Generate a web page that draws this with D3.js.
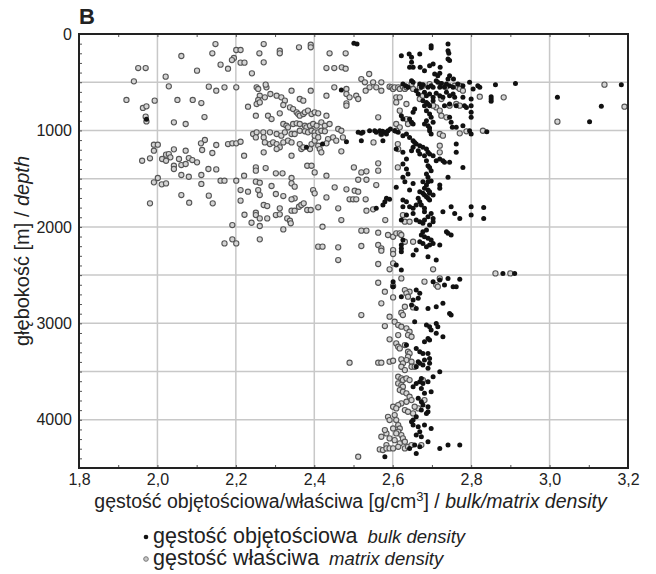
<!DOCTYPE html>
<html>
<head>
<meta charset="utf-8">
<script src="https://cdn.jsdelivr.net/npm/d3@7"></script>
<style>
  body { margin: 0; background: #fff; }
  svg { display: block; font-family: "Liberation Sans", Arial, sans-serif; }
</style>
</head>
<body>
<div id="chart"></div>
<script>
// tick values
var xTicks = [1.8, 2.0, 2.2, 2.4, 2.6, 2.8, 3.0, 3.2];
var yTicks = [0, 1000, 2000, 3000, 4000];
var yGrid = [500, 1000, 1500, 2000, 2500, 3000, 3500, 4000];

// gęstość właściwa / matrix density  [density g/cm3, depth m]
var matrixDensity = [
  [2.148,104],[2.061,228],[2.140,200],[2.201,166],[2.212,166],[2.195,249],[2.190,270],[2.161,318],[2.180,360],
  [2.212,297],[2.222,297],[2.101,380],[1.951,353],[1.970,353],[2.021,442],[1.940,491],[2.029,543],[2.131,546],
  [2.150,588],[2.171,553],[2.201,553],[2.241,408],[2.231,754],[1.921,684],[1.963,767],[1.972,750],[1.993,691],
  [2.051,684],[2.090,684],[2.112,716],[1.970,857],[1.972,906],[2.120,861],[2.042,916],[2.072,933],[1.991,1148],
  [2.001,1148],[2.121,1099],[2.111,1134],[2.150,1151],[2.180,1141],[2.191,1134],[2.201,1134],[2.212,1117],
  [1.991,1210],[1.961,1314],[1.981,1289],[2.012,1296],[2.022,1251],[2.029,1245],[2.033,1279],[2.022,1314],
  [2.042,1196],[2.055,1296],[2.042,1366],[2.042,1400],[2.061,1359],[2.072,1210],[2.072,1348],[2.080,1286],
  [2.089,1307],[2.101,1331],[2.114,1203],[2.140,1234],[2.130,1400],[2.150,1404],[2.112,1462],[2.061,1462],
  [2.080,1480],[2.001,1493],[1.991,1538],[2.161,1521],[2.171,1521],[2.201,1521],[2.221,1262],[2.221,1469],
  [2.011,1559],[2.022,1549],[2.112,1555],[2.061,1670],[2.081,1749],[2.131,1676],[2.141,1756],[1.981,1756],
  [2.212,1618],[2.231,1635],[2.212,1728],[2.222,1874],[2.191,1981],[2.171,2171],[2.191,2129],[2.201,2171],
  [2.271,104],[2.260,200],[2.271,294],[2.312,173],[2.312,200],[2.361,138],[2.391,111],[2.391,138],[2.439,200],
  [2.480,200],[2.431,353],[2.451,353],[2.470,346],[2.480,360],[2.520,467],[2.529,501],[2.540,415],[2.541,553],
  [2.550,501],[2.571,501],[2.482,570],[2.482,622],[2.490,657],[2.507,640],[2.512,674],[2.531,588],[2.482,719],
  [2.482,743],[2.451,553],[2.431,640],[2.253,553],[2.257,570],[2.278,553],[2.276,525],[2.261,640],[2.257,684],
  [2.274,657],[2.288,622],[2.304,640],[2.316,657],[2.325,691],[2.342,588],[2.363,674],[2.372,691],[2.391,588],
  [2.253,726],[2.261,709],[2.321,736],[2.338,761],[2.346,778],[2.355,812],[2.359,830],[2.363,847],[2.372,830],
  [2.376,812],[2.384,795],[2.393,830],[2.401,812],[2.410,823],[2.431,847],[2.251,847],[2.282,847],[2.291,882],
  [2.312,823],[2.321,933],[2.329,951],[2.333,968],[2.346,933],[2.355,926],[2.363,933],[2.376,951],[2.380,968],
  [2.389,951],[2.397,933],[2.406,951],[2.418,916],[2.427,951],[2.439,933],[2.363,1003],[2.376,1009],[2.384,1020],
  [2.393,1003],[2.401,1020],[2.410,1020],[2.418,1003],[2.427,1009],[2.461,985],[2.469,1003],[2.244,1037],
  [2.253,1020],[2.270,1020],[2.287,1020],[2.304,1037],[2.316,1054],[2.325,1020],[2.342,1037],[2.350,1037],
  [2.251,1072],[2.271,1072],[2.274,1124],[2.287,1141],[2.295,1124],[2.304,1141],[2.312,1175],[2.321,1124],
  [2.333,1106],[2.342,1124],[2.363,1141],[2.367,1193],[2.372,1175],[2.389,1193],[2.393,1141],[2.401,1106],
  [2.410,1158],[2.414,1193],[2.418,1227],[2.401,1054],[2.410,1072],[2.435,1089],[2.448,1072],[2.456,1106],
  [2.473,1072],[2.271,1227],[2.304,1193],[2.342,1262],[2.431,1134],[2.469,1217],[2.551,1124],[2.613,1141],
  [2.251,1383],[2.251,1417],[2.276,1390],[2.302,1445],[2.319,1445],[2.342,1493],[2.382,1366],[2.393,1366],
  [2.401,1435],[2.431,1469],[2.501,1383],[2.520,1435],[2.533,1424],[2.563,1341],[2.563,1417],[2.533,1511],
  [2.512,1511],[2.613,1383],
  [2.251,1531],[2.261,1542],[2.257,1618],[2.261,1670],[2.291,1576],[2.302,1659],[2.321,1680],[2.342,1549],
  [2.350,1583],[2.350,1704],[2.342,1714],[2.397,1618],[2.401,1652],[2.431,1694],[2.452,1590],[2.482,1611],
  [2.503,1625],[2.512,1635],[2.490,1714],[2.499,1714],[2.507,1714],[2.531,1714],[2.533,1832],[2.550,1818],
  [2.558,1566],[2.581,1929],[2.271,1773],[2.280,1784],[2.312,1808],[2.302,1877],[2.312,1870],[2.342,1832],
  [2.350,1832],[2.361,1791],[2.367,1773],[2.373,1756],[2.382,1825],[2.391,1825],[2.410,1797],[2.461,1808],
  [2.251,1853],[2.251,1877],[2.261,1912],[2.240,1957],[2.261,1991],[2.280,1912],[2.331,1912],[2.338,1936],
  [2.340,1963],[2.321,2026],[2.261,2129],[2.469,1929],[2.421,1998],[2.520,2039],[2.533,2039],[2.410,2205],
  [2.421,2205],[2.461,2212],[2.461,2344],[2.520,2198],[2.601,2378],[2.520,2914],
  [2.558,553],[2.571,588],[2.592,546],[2.597,553],[2.601,570],[2.605,553],[2.614,553],[2.618,570],[2.626,546],
  [2.631,570],[2.635,553],[2.652,570],[2.648,519],[2.669,553],[2.677,536],[2.694,519],[2.724,519],[2.737,546],
  [2.758,536],[2.766,553],[2.771,536],[2.771,570],[2.779,588],[2.609,657],[2.609,709],[2.618,657],[2.669,674],
  [2.677,640],[2.635,726],[2.711,761],[2.720,795],[2.724,847],[2.737,864],[2.745,743],[2.762,726],[2.771,743],
  [2.724,674],[2.703,743],[2.563,864],[2.571,1037],[2.618,795],[2.609,933],[2.618,968],[2.609,1003],[2.614,1193],
  [2.720,1158],[2.720,1227],[2.720,1037],[2.728,1054],[2.771,1030],[2.788,1009],[2.830,1003],[2.635,882],[2.639,933],
  [2.626,1877],[2.631,1946],[2.643,1946],[2.563,2060],[2.588,2084],[2.601,2102],[2.609,2067],[2.618,2067],
  [2.622,2084],[2.631,2154],[2.652,2154],[2.563,2188],[2.571,2223],[2.571,2247],[2.601,2240],[2.601,2281],
  [2.563,2385],[2.592,2440],[2.703,2440],[2.563,2579],[2.601,2613],[2.580,2672],[2.622,2534],[2.681,2568],
  [2.711,2603],[2.715,2620],[2.720,2534],[2.571,2793],[2.601,2731],[2.631,2655],[2.643,2672],[2.635,2689],
  [2.639,2724],[2.631,2828],[2.652,2835],[2.622,2890],[2.626,2914],[2.592,2931],
  [2.580,3028],[2.605,2983],[2.614,3018],[2.622,3035],[2.635,3052],[2.643,3087],[2.639,3122],[2.648,3139],
  [2.614,3122],[2.592,3166],[2.609,3208],[2.614,3243],[2.618,3260],[2.631,3225],[2.639,3294],[2.643,3312],
  [2.639,3346],[2.635,3381],[2.648,3398],[2.490,3408],[2.563,3408],[2.571,3408],[2.592,3398],[2.601,3388],
  [2.622,3374],[2.626,3415],[2.622,3450],[2.631,3485],[2.648,3450],[2.656,3450],[2.614,3554],[2.622,3571],
  [2.626,3588],[2.635,3571],[2.643,3588],[2.614,3623],[2.622,3640],[2.626,3657],[2.618,3692],[2.626,3709],
  [2.635,3726],[2.643,3761],[2.648,3796],[2.635,3813],[2.622,3830],[2.614,3848],[2.601,3865],[2.609,3882],
  [2.631,3899],[2.639,3917],[2.652,3934],[2.665,3882],[2.656,3865],[2.588,3969],[2.592,4003],[2.605,3951],
  [2.609,4003],[2.614,4055],[2.618,4090],[2.601,4090],[2.614,4124],[2.622,4159],[2.626,4193],[2.609,4141],
  [2.584,4141],[2.580,4107],[2.571,4176],[2.592,4193],[2.605,4211],[2.618,4245],[2.631,4228],[2.584,4262],
  [2.567,4307],[2.575,4314],[2.584,4297],[2.592,4297],[2.601,4297],[2.614,4280],[2.631,4297],[2.639,4280],
  [2.648,4262],[2.673,4262],[2.512,4383],[2.677,3588],[2.681,3796],
  [2.822,650],[2.883,657],[3.140,525],[3.191,754],[3.020,909],[2.862,2482],[2.900,2482]
];

// gęstość objętościowa / bulk density  [density g/cm3, depth m]
var bulkDensity = [
  [2.501,97],[2.509,104],[2.469,580],[2.380,1175],[2.421,1141],[2.482,1117],[2.512,1020],[2.520,1030],
  [2.524,1020],[2.541,1003],[2.520,1106],[2.609,1193],[1.972,885],[2.609,1590],
  [2.698,121],[2.698,145],[2.741,104],[2.741,173],[2.743,200],[2.622,225],[2.642,207],[2.648,242],[2.669,207],
  [2.741,259],[2.745,276],[2.652,346],[2.643,346],[2.648,294],[2.670,346],[2.694,328],[2.703,311],[2.721,346],
  [2.681,380],[2.707,415],[2.715,432],[2.720,408],[2.745,432],[2.741,467],[2.755,467],[2.711,484],[2.715,501],
  [2.724,512],[2.648,484],[2.652,501],[2.626,519],[2.633,536],[2.639,553],[2.669,519],[2.673,553],[2.677,525],
  [2.690,553],[2.698,536],[2.703,553],[2.720,553],[2.732,553],[2.737,519],[2.745,536],[2.754,553],[2.766,519],
  [2.779,536],[2.796,501],[2.817,536],[2.805,570],[2.822,553],[2.660,588],[2.665,622],[2.681,605],[2.686,640],
  [2.694,622],[2.703,657],[2.711,615],[2.720,640],[2.728,657],[2.737,605],[2.745,640],[2.754,622],[2.758,657],
  [2.779,657],[2.800,674],[2.677,691],[2.686,709],[2.690,726],[2.694,743],[2.703,691],[2.681,743],[2.656,778],
  [2.652,812],[2.732,743],[2.745,726],[2.762,743],[2.783,743],[2.788,761],[2.800,743],[2.800,812],[2.800,864],
  [2.622,847],[2.626,882],[2.643,882],[2.648,916],[2.652,933],[2.686,795],[2.694,830],[2.698,864],[2.686,899],
  [2.681,933],[2.690,951],[2.694,975],[2.694,1003],[2.698,1037],[2.703,916],[2.745,864],[2.749,916],[2.762,968],
  [2.779,951],[2.752,968],[2.554,1003],[2.558,1020],[2.567,1003],[2.574,1009],[2.580,1020],[2.588,1003],
  [2.594,985],[2.605,1003],[2.614,1020],[2.571,1037],[2.584,1037],[2.575,1106],[2.626,1054],[2.635,1037],
  [2.643,1072],[2.652,1106],[2.656,1124],[2.660,1141],[2.669,1158],[2.677,1175],[2.686,1193],[2.690,1227],
  [2.694,1245],[2.703,1262],[2.652,1175],[2.648,1210],[2.665,1210],[2.669,1245],[2.681,1262],[2.686,1314],
  [2.690,1366],[2.694,1383],[2.698,1417],[2.686,1452],[2.690,1486],[2.626,1227],[2.635,1296],[2.626,1348],
  [2.635,1400],[2.639,1452],[2.626,1486],[2.762,1141],[2.762,1227],[2.779,1383],[2.711,1314],[2.720,1296],
  [2.728,1314],[2.732,1331],[2.745,1331],[2.741,1486],[2.796,1003],[2.800,1037],
  [2.631,1531],[2.652,1549],[2.677,1531],[2.690,1531],[2.698,1524],[2.686,1566],[2.681,1600],[2.690,1618],
  [2.694,1635],[2.669,1635],[2.677,1652],[2.681,1670],[2.686,1687],[2.694,1652],[2.703,1670],[2.690,1704],
  [2.694,1721],[2.665,1704],[2.669,1739],[2.643,1618],[2.720,1566],[2.720,1600],[2.584,1704],[2.592,1714],
  [2.580,1739],[2.575,1773],[2.558,1808],[2.626,1721],[2.635,1739],[2.626,1791],[2.643,1791],[2.652,1808],
  [2.660,1773],[2.673,1773],[2.681,1808],[2.681,1842],[2.652,1860],[2.635,1877],[2.622,1929],[2.660,1929],
  [2.669,1946],[2.677,1963],[2.681,1929],[2.690,1894],[2.698,1860],[2.703,1912],[2.703,1946],[2.694,1981],
  [2.686,2033],[2.677,2050],[2.673,2084],[2.681,2102],[2.690,2119],[2.698,2136],[2.703,2171],[2.694,2188],
  [2.686,2205],[2.677,2171],[2.669,2154],[2.626,2136],[2.622,2188],[2.622,2223],[2.622,2257],[2.652,2292],
  [2.660,2240],[2.690,2309],[2.711,2344],[2.720,2188],[2.737,2050],[2.749,2084],[2.741,2067],[2.728,1842],
  [2.749,1791],[2.758,1860],[2.771,1912],[2.800,1791],[2.800,1877],[2.609,2396],[2.622,2447],[2.601,2568],
  [2.601,2620],[2.622,2724],[2.660,2655],[2.669,2689],[2.665,2741],[2.652,2758],[2.648,2810],[2.660,2845],
  [2.690,2845],[2.711,2828],[2.703,2568],[2.720,2551],[2.732,2603],[2.741,2534],[2.754,2620],[2.762,2620],
  [2.771,2544],[2.728,2793],[2.745,2897],[2.749,2914],
  [2.656,2983],[2.686,3018],[2.694,3035],[2.698,3070],[2.711,3001],[2.715,3035],[2.711,3104],[2.728,3139],
  [2.690,3156],[2.694,3173],[2.681,3191],[2.635,3225],[2.660,3260],[2.669,3294],[2.677,3312],[2.690,3312],
  [2.694,3364],[2.681,3381],[2.665,3398],[2.669,3415],[2.660,3450],[2.677,3433],[2.694,3415],[2.690,3467],
  [2.720,3502],[2.703,3554],[2.673,3571],[2.669,3606],[2.660,3623],[2.652,3657],[2.677,3623],[2.690,3606],
  [2.698,3709],[2.673,3675],[2.681,3726],[2.665,3778],[2.673,3813],[2.677,3848],[2.690,3865],[2.673,3899],
  [2.686,3934],[2.660,3969],[2.648,4020],[2.652,4055],[2.665,4072],[2.681,4055],[2.698,4090],[2.669,4124],
  [2.660,4159],[2.673,4176],[2.690,4228],[2.656,4262],[2.669,4280],[2.720,4297],[2.741,4262],[2.771,4262],
  [2.580,4383],[2.660,4349],[2.643,4297],[2.652,4003],[2.690,3917],
  [2.862,525],[2.913,512],[2.851,650],[2.851,674],[2.851,698],[3.020,657],[3.132,750],[3.102,909],[3.183,525],
  [2.840,1013],[2.832,1798],[2.832,1912],[2.881,2482],[2.911,2482]
];

var width = 656, height = 574;
var margin = {top: 34, right: 28, bottom: 106, left: 79};

var svg = d3.select("#chart")
  .append("svg")
  .attr("width", width)
  .attr("height", height);

var x = d3.scaleLinear()
  .domain([1.8, 3.2])
  .range([margin.left, width - margin.right]);

var y = d3.scaleLinear()
  .domain([0, 4500])
  .range([margin.top, height - margin.bottom]);

// grid
svg.append("g")
  .selectAll("line")
  .data(xTicks.slice(1, -1))
  .enter()
  .append("line")
  .attr("x1", d => x(d)).attr("x2", d => x(d))
  .attr("y1", y(0)).attr("y2", y(4500))
  .style("stroke", "#c8c8c8")
  .style("stroke-width", 1.5);

svg.append("g")
  .selectAll("line")
  .data(yGrid)
  .enter()
  .append("line")
  .attr("x1", x(1.8)).attr("x2", x(3.2))
  .attr("y1", d => y(d)).attr("y2", d => y(d))
  .style("stroke", "#c8c8c8")
  .style("stroke-width", 1.5);

// small inner ticks
var minor = [
  svg.append("g").attr("transform", "translate(" + x(1.8) + ",0)").call(d3.axisRight(y).ticks(45).tickSize(3).tickFormat("")),
  svg.append("g").attr("transform", "translate(0," + y(0) + ")").call(d3.axisBottom(x).ticks(14).tickSize(3).tickFormat("")),
  svg.append("g").attr("transform", "translate(0," + y(4500) + ")").call(d3.axisTop(x).ticks(14).tickSize(3).tickFormat(""))
];
minor.forEach(function(g) {
  g.select(".domain").remove();
  g.selectAll("line").style("stroke", "#555").style("stroke-width", 1);
});

// points
svg.append("g")
  .selectAll("circle")
  .data(matrixDensity)
  .enter()
  .append("circle")
  .attr("cx", d => x(d[0]))
  .attr("cy", d => y(d[1]))
  .attr("r", 2.6)
  .style("fill", "#d4d4d4")
  .style("stroke", "#555")
  .style("stroke-width", 1.1);

svg.append("g")
  .selectAll("circle")
  .data(bulkDensity)
  .enter()
  .append("circle")
  .attr("cx", d => x(d[0]))
  .attr("cy", d => y(d[1]))
  .attr("r", 2.5)
  .style("fill", "#111");

// frame
svg.append("rect")
  .attr("x", x(1.8)).attr("y", y(0))
  .attr("width", x(3.2) - x(1.8))
  .attr("height", y(4500) - y(0))
  .style("fill", "none")
  .style("stroke", "#222")
  .style("stroke-width", 2);

// tick labels
var yAxis = svg.append("g")
  .attr("transform", "translate(" + x(1.8) + ",0)")
  .call(d3.axisLeft(y).tickValues(yTicks).tickSize(0).tickPadding(7)
    .tickFormat(d3.format("d")));
var xAxis = svg.append("g")
  .attr("transform", "translate(0," + y(4500) + ")")
  .call(d3.axisBottom(x).tickValues(xTicks).tickSize(0).tickPadding(6)
    .tickFormat(d => d.toFixed(1).replace(".", ",")));
[xAxis, yAxis].forEach(function(g) {
  g.select(".domain").remove();
  g.selectAll("text")
    .style("font-family", "'Liberation Sans', Arial, sans-serif")
    .style("font-size", "16px")
    .style("fill", "#222");
});

// panel letter
svg.append("text")
  .attr("x", 79)
  .attr("y", 24)
  .style("font-size", "22px")
  .style("font-weight", "bold")
  .style("fill", "#222")
  .text("B");

// axis titles
var yTitle = svg.append("text")
  .attr("transform", "translate(29," + ((y(0) + y(4500)) / 2) + ") rotate(-90)")
  .attr("text-anchor", "middle")
  .style("font-size", "20px")
  .style("fill", "#222");
yTitle.append("tspan").text("głębokość [m] / ");
yTitle.append("tspan").style("font-style", "italic").text("depth");

var xTitle = svg.append("text")
  .attr("x", (x(1.8) + x(3.2)) / 2 - 3)
  .attr("y", 508)
  .attr("text-anchor", "middle")
  .style("font-size", "19.5px")
  .style("fill", "#222");
xTitle.append("tspan").text("gęstość objętościowa/właściwa [g/cm");
xTitle.append("tspan").attr("dy", -7).style("font-size", "13px").text("3");
xTitle.append("tspan").attr("dy", 7).text("] / ");
xTitle.append("tspan").style("font-style", "italic").text("bulk/matrix density");

// legend
var legendItems = [
  {pl: "gęstość objętościowa", en: "bulk density", fill: "#111", stroke: "none"},
  {pl: "gęstość właściwa", en: "matrix density", fill: "#c8c8c8", stroke: "#777"}
];
var legend = svg.append("g")
  .selectAll("g")
  .data(legendItems)
  .enter()
  .append("g")
  .attr("transform", (d, i) => "translate(0," + (543 + i * 22) + ")");
legend.append("circle")
  .attr("cx", 146)
  .attr("cy", -6)
  .attr("r", 2.3)
  .style("fill", d => d.fill)
  .style("stroke", d => d.stroke);
var lt = legend.append("text")
  .attr("x", 153)
  .style("font-size", "21.5px")
  .style("fill", "#222");
lt.append("tspan").text(d => d.pl);
lt.append("tspan")
  .attr("dx", 10)
  .style("font-style", "italic")
  .style("font-size", "18.5px")
  .text(d => d.en);
</script>
</body>
</html>
